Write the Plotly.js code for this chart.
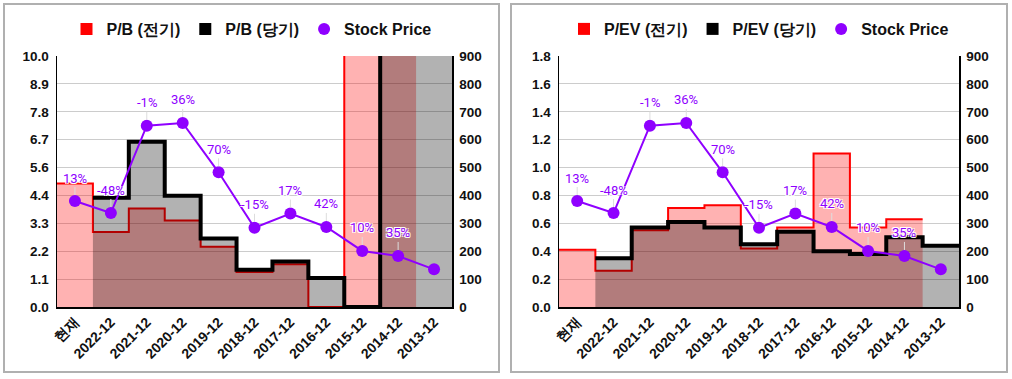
<!DOCTYPE html>
<html>
<head>
<meta charset="utf-8">
<script src="https://cdn.plot.ly/plotly-3.0.1.min.js"></script>
<style>
  html, body { margin: 0; padding: 0; background: #fff; }
  .box { position: absolute; top: 3px; height: 366px; border: 2px solid #b0b0b0; background: #fff; }
  #c1 { left: 3px; width: 493px; }
  #c2 { left: 510px; width: 494px; }
</style>
</head>
<body>
<div id="c1" class="box"></div>
<div id="c2" class="box"></div>
<script>
// ---- data ----
const categories = ['현재','2022-12','2021-12','2020-12','2019-12','2018-12','2017-12','2016-12','2015-12','2014-12','2013-12'];
const stockPrice = [380, 337, 650, 660, 483, 284, 335, 287, 201, 183, 135];
const priceChange = ['13%','-48%','-1%','36%','70%','-15%','17%','42%','10%','35%',''];
const pbPrev = [4.92, 2.99, 3.92, 3.45, 2.40, 1.39, 1.70, 0, 14.6, 18.3, null];
const pbCurr = [null, 4.35, 6.58, 4.43, 2.73, 1.48, 1.81, 1.16, 0, 16.9, 21.4];
const pevPrev = [0.41, 0.26, 0.55, 0.71, 0.73, 0.42, 0.57, 1.10, 0.57, 0.63, null];
const pevCurr = [null, 0.35, 0.57, 0.61, 0.57, 0.45, 0.54, 0.40, 0.38, 0.50, 0.44];

const PURPLE = '#8f00ff';
const FONT = 'Liberation Sans, Arial, sans-serif';

function stepXY(vals) {
  const xs = [], ys = [];
  vals.forEach((v, i) => { xs.push(i - 0.5, i + 0.5); ys.push(v, v); });
  return { xs, ys };
}

function drawChart(div, prevVals, currVals, prevName, currName, yRange, yDtick, margin, width) {
  const idx = categories.map((_, i) => i);
  const p = stepXY(prevVals), c = stepXY(currVals);
  const traces = [
    { x: p.xs, y: p.ys, type: 'scatter', mode: 'lines', fill: 'tozeroy',
      fillcolor: 'rgba(255,0,0,0.3)', line: { color: '#ff0000', width: 2 },
      connectgaps: false, showlegend: false, hoverinfo: 'skip', yaxis: 'y' },
    { x: c.xs, y: c.ys, type: 'scatter', mode: 'lines', fill: 'tozeroy',
      fillcolor: 'rgba(0,0,0,0.3)', line: { color: '#000000', width: 4 },
      connectgaps: false, showlegend: false, hoverinfo: 'skip', yaxis: 'y' },
    { x: idx, y: stockPrice, type: 'scatter', mode: 'lines+markers', yaxis: 'y2',
      line: { color: PURPLE, width: 2 }, marker: { color: PURPLE, size: 12 },
      showlegend: false },
    // legend entries
    { x: [null], y: [null], type: 'scatter', mode: 'markers', name: prevName,
      marker: { symbol: 'square', size: 12, color: '#ff0000' } },
    { x: [null], y: [null], type: 'scatter', mode: 'markers', name: currName,
      marker: { symbol: 'square', size: 12, color: '#000000' } },
    { x: [null], y: [null], type: 'scatter', mode: 'markers', name: 'Stock Price', yaxis: 'y2',
      marker: { symbol: 'circle', size: 12, color: PURPLE } }
  ];
  const annotations = idx.filter(i => priceChange[i] !== '').map(i => ({
    x: i, y: stockPrice[i], xref: 'x', yref: 'y2', text: priceChange[i],
    showarrow: true, arrowhead: 0, arrowwidth: 1, arrowcolor: '#dddddd',
    ax: 0, ay: -23, standoff: 6,
    font: { family: 'Roboto, sans-serif', size: 13, color: PURPLE,
            shadow: '1px 1px 0 #fff, -1px -1px 0 #fff, 1px -1px 0 #fff, -1px 1px 0 #fff' }
  }));
  const tickFont = { family: FONT, size: 13.5, color: '#111', weight: 'bold' };
  const yTicks = [];
  for (let k = 0; k <= 9; k++) yTicks.push(yRange[0] + k * yDtick);
  const layout = {
    width: width, height: 366,
    margin: margin,
    paper_bgcolor: '#fff', plot_bgcolor: '#fff',
    showlegend: true,
    legend: { orientation: 'h', x: 0.5, xanchor: 'center', xref: 'container',
              y: 1 - 24 / 366, yanchor: 'middle', yref: 'container',
              font: { family: FONT, size: 16, color: '#111', weight: 'bold' },
              itemwidth: 30, tracegroupgap: 0 },
    xaxis: { range: [-0.5, 10.5], tickmode: 'array', tickvals: idx, ticktext: categories,
             tickangle: -45, showgrid: false, zeroline: false, showline: true,
             linecolor: '#000', linewidth: 1.5,
             tickfont: { family: FONT, size: 14, color: '#111', weight: 'bold' }, fixedrange: true },
    yaxis: { range: [yRange[0], yRange[1]], tickmode: 'array', tickvals: yTicks,
             ticktext: yTicks.map(v => v.toFixed(1)),
             showgrid: true, gridcolor: '#cccccc', gridwidth: 1, zeroline: false,
             showline: true, linecolor: '#000', linewidth: 1.5, tickfont: tickFont,
             ticklabelstandoff: 4 },
    yaxis2: { overlaying: 'y', side: 'right', range: [0, 900], dtick: 100,
              showgrid: false, zeroline: false, showline: true, linecolor: '#000', linewidth: 1.5,
              tickfont: tickFont, ticklabelstandoff: 3 },
    annotations: annotations
  };
  Plotly.newPlot(div, traces, layout, { displayModeBar: false, staticPlot: true });
}

drawChart('c1', pbPrev, pbCurr, 'P/B (전기)', 'P/B (당기)', [0, 10], 10 / 9,
          { l: 52, r: 46, t: 51, b: 64 }, 493);
drawChart('c2', pevPrev, pevCurr, 'P/EV (전기)', 'P/EV (당기)', [0, 1.8], 0.2,
          { l: 47, r: 47, t: 51, b: 64 }, 494);
</script>
</body>
</html>
